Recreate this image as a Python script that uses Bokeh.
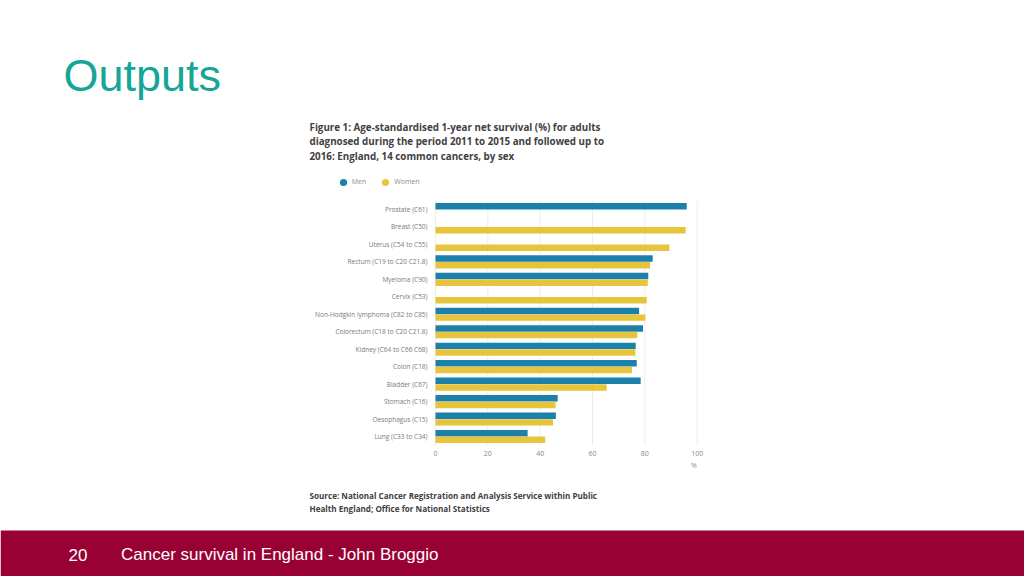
from bokeh.plotting import figure
from bokeh.models import (Range1d, ColumnDataSource, Label, FixedTicker, LinearAxis,
                          Legend, LegendItem, BoxAnnotation)
from bokeh.transform import dodge
from bokeh.embed import file_html
from bokeh.resources import INLINE

NaN = float("nan")

cancers = [
    "Prostate (C61)", "Breast (C50)", "Uterus (C54 to C55)", "Rectum (C19 to C20 C21.8)",
    "Myeloma (C90)", "Cervix (C53)", "Non-Hodgkin lymphoma (C82 to C85)",
    "Colorectum (C18 to C20 C21.8)", "Kidney (C64 to C66 C68)", "Colon (C18)",
    "Bladder (C67)", "Stomach (C16)", "Oesophagus (C15)", "Lung (C33 to C34)",
]
men = [96.0, NaN, NaN, 83.0, 81.3, NaN, 77.8, 79.3, 76.5, 76.9, 78.4, 46.7, 46.0, 35.2]
women = [NaN, 95.6, 89.4, 82.0, 81.1, 80.7, 80.2, 77.1, 76.4, 75.1, 65.4, 45.9, 44.9, 41.9]
x_ticks = [0, 20, 40, 60, 80, 100]
series_names = ["Men", "Women"]

slide_title = "Outputs"
chart_title = [
    "Figure 1: Age-standardised 1-year net survival (%) for adults",
    "diagnosed during the period 2011 to 2015 and followed up to",
    "2016: England, 14 common cancers, by sex",
]
source_lines = [
    "Source: National Cancer Registration and Analysis Service within Public",
    "Health England; Office for National Statistics",
]
x_unit = "%"
slide_number = "20"
footer_text = "Cancer survival in England - John Broggio"

BLUE = "#1b80aa"
YELLOW = "#e6c43b"
TEAL = "#17a696"
CRIMSON = "#990033"
DARK = "#414042"
GREY = "#8a8a8a"

# ---- layout constants (page pixels) ----
W, H = 1024, 576
X0_PX, X100_PX = 435.0, 696.7        # where 0 % and 100 % fall
BAND_TOP, BAND_PX = 200.3, 17.46     # top of first category band, band height
ppx = (X100_PX - X0_PX) / 100.0
x_start = -X0_PX / ppx
x_end = (W - X0_PX) / ppx
# category index i has its centre at BAND_TOP + BAND_PX*(i+0.5); index grows downward
y_top = (0 - BAND_TOP) / BAND_PX - 0.5
y_bottom = (H - BAND_TOP) / BAND_PX - 0.5

idx = list(range(len(cancers)))
src = ColumnDataSource(data=dict(idx=idx, cancer=cancers, men=men, women=women))

p = figure(width=W, height=H, output_backend="svg", toolbar_location=None,
           x_range=Range1d(x_start, x_end), y_range=Range1d(y_bottom, y_top),
           x_axis_location=None, y_axis_location=None, min_border=0,
           outline_line_color=None, background_fill_color="white",
           border_fill_color="white")
p.xgrid.visible = False
p.ygrid.visible = False

n = len(cancers)
# vertical gridlines limited to the chart area
p.segment(x0=x_ticks, x1=x_ticks, y0=[-0.5] * len(x_ticks), y1=[n - 0.5] * len(x_ticks),
          line_color="#ececec", line_width=1)

p.hbar(y=dodge("idx", -0.19), right="men", left=0, height=0.37,
       source=src, fill_color=BLUE, line_color=None)
p.hbar(y=dodge("idx", 0.19), right="women", left=0, height=0.37,
       source=src, fill_color=YELLOW, line_color=None)

# category axis (fixed at 0 %, takes no border space)
yaxis = LinearAxis(fixed_location=0, ticker=FixedTicker(ticks=idx),
                   major_label_overrides={i: c for i, c in zip(idx, cancers)},
                   axis_line_color=None, major_tick_line_color=None,
                   minor_tick_line_color=None, major_label_standoff=2,
                   major_label_text_font="Open Sans", major_label_text_font_size="6.5px",
                   major_label_text_color="#7a7a7a")
p.add_layout(yaxis, "left")

xaxis = LinearAxis(fixed_location=n - 0.5, ticker=FixedTicker(ticks=x_ticks),
                   axis_line_color=None, major_tick_line_color=None,
                   minor_tick_line_color=None, major_label_standoff=0,
                   major_label_text_font="Open Sans", major_label_text_font_size="7px",
                   major_label_text_color=GREY)
p.add_layout(xaxis, "below")


def lab(text, px, py, size, color, font="Open Sans", style="normal", align="left"):
    p.add_layout(Label(x=px, y=H - py, x_units="screen", y_units="screen", text=text,
                       text_font=font, text_font_size=size, text_color=color,
                       text_font_style=style, text_align=align, text_baseline="middle"))


lab(slide_title, 63, 75.3, "45px", TEAL, font="Liberation Sans")
for i, line in enumerate(chart_title):
    lab(line, 309, 127.0 + 14.3 * i, "9.8px", DARK, style="bold")
for i, line in enumerate(source_lines):
    lab(line, 309, 494.5 + 13.5 * i, "8.1px", DARK, style="bold")
lab(x_unit, 693.3, 465, "7px", GREY, align="center")

# legend (marker glyphs are zero-size in the plot; only the legend shows them)
r_m = p.scatter(x="men", y="idx", source=src, size=0, marker="circle",
                fill_color=BLUE, line_color=None)
r_w = p.scatter(x="women", y="idx", source=src, size=0, marker="circle",
                fill_color=YELLOW, line_color=None)
legend = Legend(items=[LegendItem(label=series_names[0], renderers=[r_m], index=0),
                       LegendItem(label=series_names[1], renderers=[r_w], index=1)],
                location=(333.7, H - 181.7 - 9), orientation="horizontal",
                glyph_width=18, glyph_height=18, label_height=18, label_width=14,
                label_standoff=-4, spacing=10, padding=0, margin=0,
                border_line_color=None, background_fill_alpha=0,
                label_text_font="Open Sans", label_text_font_size="7px",
                label_text_color=GREY)
p.add_layout(legend, "center")

# footer band
p.add_layout(BoxAnnotation(left=0, right=W, bottom=0, top=H - 530, left_units="screen",
                           right_units="screen", bottom_units="screen", top_units="screen",
                           fill_color=CRIMSON, fill_alpha=1, line_color=None))
lab(slide_number, 68, 554, "17px", "white", font="Liberation Sans")
lab(footer_text, 120.5, 554, "17px", "white", font="Liberation Sans")

open("out.html", "w").write(file_html(p, INLINE))
